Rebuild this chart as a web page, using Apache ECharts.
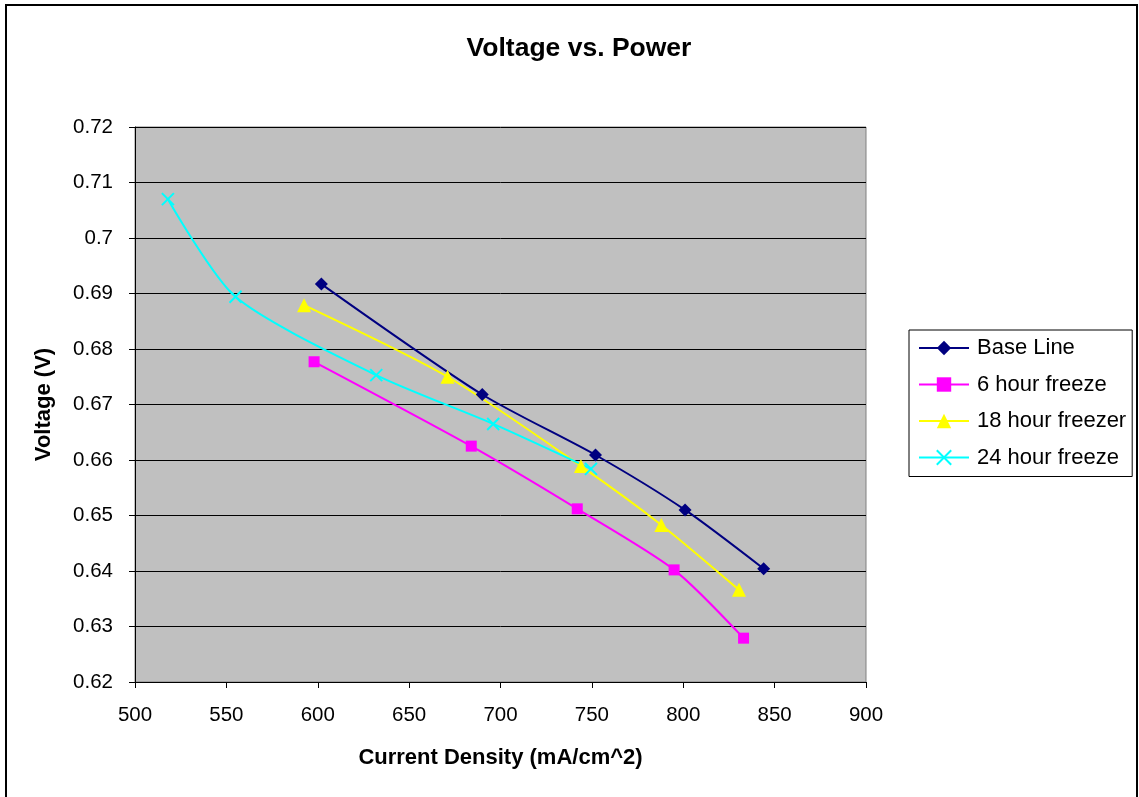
<!DOCTYPE html>
<html>
<head>
<meta charset="utf-8">
<script src="https://cdn.jsdelivr.net/npm/echarts@6/dist/echarts.min.js"></script>
<style>
html,body{margin:0;padding:0;background:#fff;}
#c{width:1139px;height:797px;}
</style>
</head>
<body>
<div id="c"></div>
<script>
const baseLine = [[602, 0.6917], [690, 0.6718], [752, 0.6609], [801, 0.6510], [844, 0.6404]];
const freeze6 = [[598, 0.6777], [684, 0.6625], [742, 0.6512], [795, 0.6402], [833, 0.6279]];
const freezer18 = [[592.5, 0.6879], [671, 0.6750], [744, 0.6589], [788, 0.6483], [830.5, 0.6366]];
const freeze24 = [[518, 0.7070], [555, 0.6894], [632, 0.6753], [696, 0.6665], [749.5, 0.6584]];
const seriesNames = ['Base Line', '6 hour freeze', '18 hour freezer', '24 hour freeze'];

const font = 'Liberation Sans, Arial, sans-serif';
const chart = echarts.init(document.getElementById('c'), null, {renderer: 'canvas'});
const crossPath = 'path://M0,0L10,10M10,0L0,10';

function mk(name, data, color, symbol, size, extra) {
  return Object.assign({
    name: name, type: 'line', data: data, smooth: 0.25,
    symbol: symbol, symbolSize: size,
    lineStyle: {color: color, width: 2},
    itemStyle: {color: color},
    emphasis: {disabled: true},
    z: 3
  }, extra || {});
}

chart.setOption({
  animation: false,
  backgroundColor: '#fff',
  title: {
    text: 'Voltage vs. Power', left: 574, top: 30, textAlign: 'center',
    textStyle: {fontFamily: font, fontSize: 26.5, fontWeight: 'bold', color: '#000'}
  },
  graphic: [{
    type: 'rect', shape: {x: 6, y: 5, width: 1131, height: 810},
    style: {fill: 'none', stroke: '#000', lineWidth: 2}, z: 100, silent: true
  }],
  grid: {left: 135, top: 127, width: 731, height: 555, show: true, backgroundColor: '#c0c0c0', borderColor: '#808080', borderWidth: 1},
  legend: {
    orient: 'vertical', left: 909, top: 330,
    padding: [7, 6, 8, 9], itemGap: 14.5,
    itemWidth: 50, itemHeight: 18,
    borderColor: '#000', borderWidth: 1, backgroundColor: '#fff',
    textStyle: {fontFamily: font, fontSize: 22, color: '#000', padding: [0, 0, 0, 3]},
    data: seriesNames
  },
  xAxis: {
    type: 'value', min: 500, max: 900, interval: 50,
    name: 'Current Density (mA/cm^2)', nameLocation: 'middle', nameGap: 65,
    nameTextStyle: {fontFamily: font, fontSize: 22, fontWeight: 'bold', color: '#000'},
    axisLine: {onZero: false, lineStyle: {color: '#000', width: 1}},
    axisTick: {show: true, inside: false, length: 6, lineStyle: {color: '#000'}},
    axisLabel: {fontFamily: font, fontSize: 20.5, color: '#000', margin: 23},
    splitLine: {show: false}
  },
  yAxis: {
    type: 'value', min: 0.62, max: 0.72, interval: 0.01,
    name: 'Voltage (V)', nameLocation: 'middle', nameGap: 80, nameRotate: 90,
    nameTextStyle: {fontFamily: font, fontSize: 22, fontWeight: 'bold', color: '#000'},
    axisLine: {onZero: false, lineStyle: {color: '#000', width: 1}},
    axisTick: {show: true, inside: false, length: 6, lineStyle: {color: '#000'}},
    axisLabel: {fontFamily: font, fontSize: 20.5, color: '#000', margin: 22,
      formatter: v => String(Math.round(v * 100) / 100)},
    splitLine: {show: true, lineStyle: {color: '#000', width: 1}}
  },
  series: [
    mk(seriesNames[0], baseLine, '#000080', 'diamond', 13),
    mk(seriesNames[1], freeze6, '#ff00ff', 'rect', 11),
    mk(seriesNames[2], freezer18, '#ffff00', 'triangle', 14),
    mk(seriesNames[3], freeze24, '#00ffff', crossPath, 12, {
      itemStyle: {color: '#00ffff', borderColor: '#00ffff', borderWidth: 2}
    })
  ]
});
</script>
</body>
</html>
